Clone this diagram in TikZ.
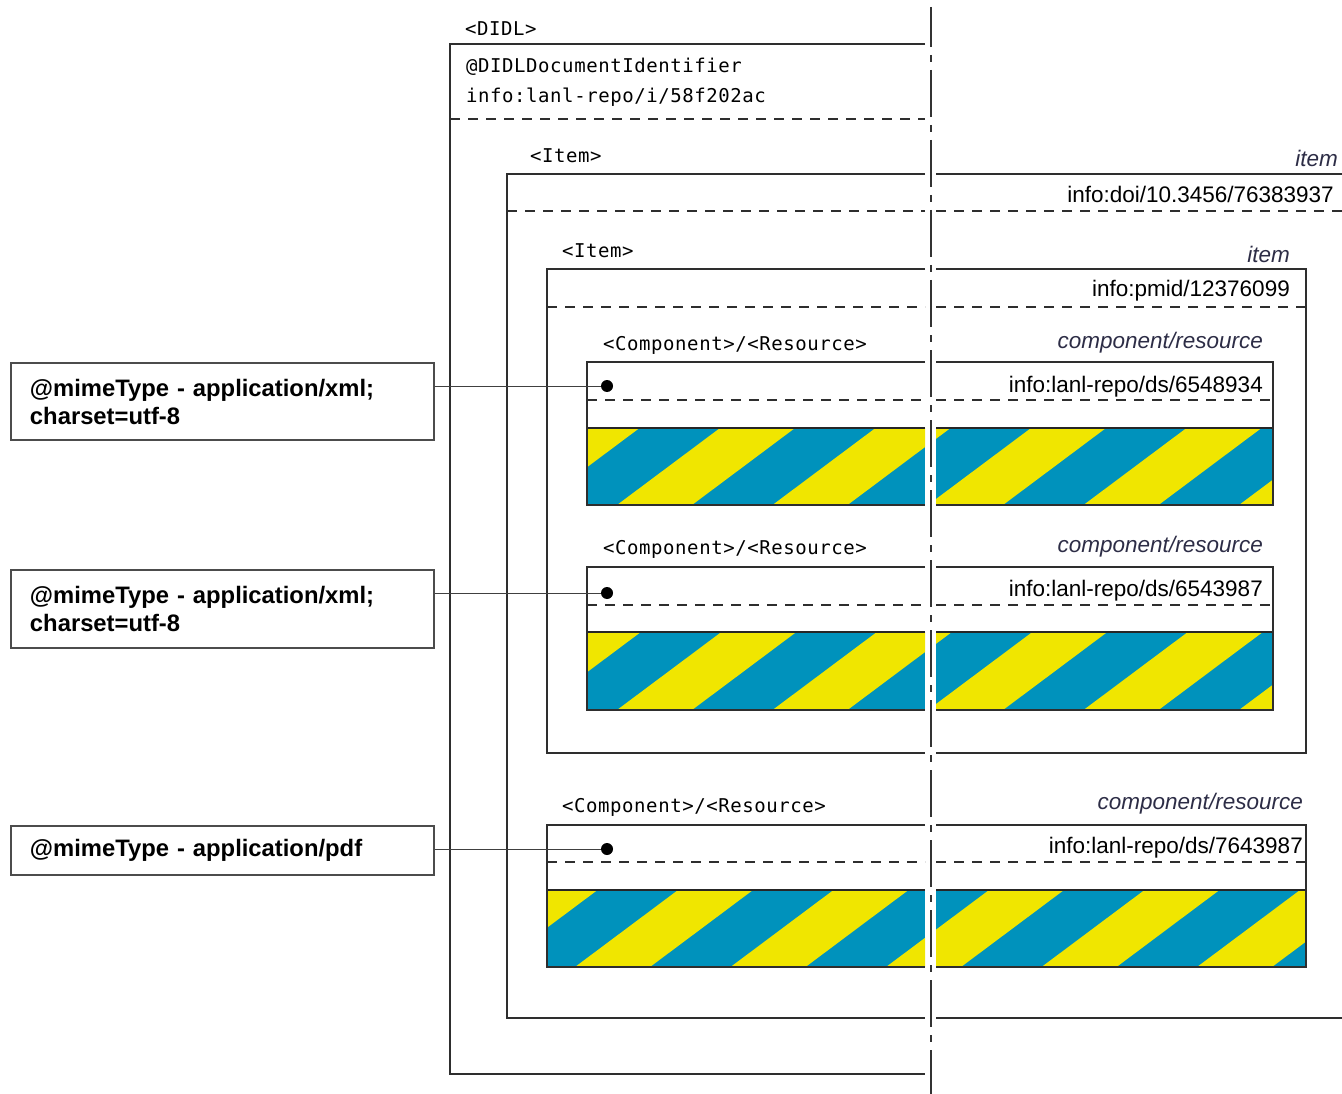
\documentclass[tikz,border=0pt]{standalone}
\usepackage{fontspec}
\setmainfont{Liberation Sans}
\newfontfamily\codefont[LetterSpace=3]{DejaVu Sans Mono}
\definecolor{hatchblue}{RGB}{0,146,188}
\definecolor{hatchyellow}{RGB}{240,230,0}
\definecolor{typecol}{RGB}{45,45,70}

% diagonal yellow/blue band: #1 left x, #2 right x, #3 top y, #4 bottom y,
% #5 x where a yellow band starts on the bottom edge
\newcommand\hatchband[5]{%
  \begin{scope}
    \clip (#1,#3) rectangle (#2,#4);
    \fill[hatchblue] (#1,#3) rectangle (#2,#4);
    \foreach \k in {-2,...,5}{
      \pgfmathsetmacro\xa{#5+\k*155.5}
      \fill[hatchyellow] (\xa,#4) -- ++(75,0) -- ++({1.338*(#4-#3)},{-(#4-#3)}) -- ++(-75,0) -- cycle;
    }
  \end{scope}
  \draw[bandedge] (#1,#3) -- (#2,#3) (#1,#4) -- (#2,#4);
}

\begin{document}
\begin{tikzpicture}[x=1pt,y=-1pt,
  frame/.style={line width=1.8pt, draw=black!82},
  sep/.style={line width=1.8pt, draw=black!82, dash pattern=on 10pt off 8pt},
  bandedge/.style={line width=1.4pt, draw=black!85},
  axisline/.style={line width=1.8pt, draw=black!80, dash pattern=on 47pt off 8pt on 7pt off 8pt, dash phase=7pt},
  tag/.style={inner sep=0pt, anchor=base west, font=\codefont\fontsize{19}{21}\selectfont},
  kind/.style={inner sep=0pt, anchor=base east, text=typecol, font=\fontsize{22.5}{26}\selectfont\itshape},
  ident/.style={inner sep=0pt, anchor=base east, font=\fontsize{22.5}{26}\selectfont},
  note/.style={draw=black!70, line width=1.2pt, minimum width=423pt, inner xsep=19pt,
    text width=385pt, align=left, font=\fontsize{23.8}{28}\selectfont\bfseries},
  dot/.style={circle, fill=black, minimum size=12pt, inner sep=0pt},
  lead/.style={draw=black!75, line width=1pt}]
\useasboundingbox (0,0) rectangle (1342,1094);

% ---- stripes of the three components ----
\hatchband{587}{925}{428}{505}{617}
\hatchband{936}{1273}{428}{505}{617}
\hatchband{587}{925}{632}{710}{617}
\hatchband{936}{1273}{632}{710}{617}
\hatchband{547}{925}{890}{967}{575}
\hatchband{936}{1306}{890}{967}{575}

% ---- DIDL ----
\draw[frame] (925,44) -- (450,44) -- (450,1074) -- (925,1074);
\draw[sep] (450,119) -- (925,119);
\node[tag] (didl) at (465,36) {<DIDL>};
\node[tag] (didlid) at (466,73) {@DIDLDocumentIdentifier};
\node[tag] (didlval) at (466,103) {info:lanl-repo/i/58f202ac};

% ---- outer Item ----
\draw[frame] (925,174) -- (507,174) -- (507,1018) -- (925,1018);
\draw[frame] (936,174) -- (1342,174) (936,1018) -- (1342,1018);
\draw[sep] (507,211) -- (925,211) (936,211) -- (1342,211);
\node[tag] (itemA) at (530,163) {<Item>};
\node[kind] (itemAk) at (1338,167) {item};
\node[ident] (itemAid) at (1334,203) {info:doi/10.3456/76383937};

% ---- inner Item ----
\draw[frame] (925,269) -- (547,269) -- (547,753) -- (925,753);
\draw[frame] (936,269) -- (1306,269) -- (1306,753) -- (936,753);
\draw[sep] (547,307) -- (925,307) (936,307) -- (1306,307);
\node[tag] (itemB) at (562,258) {<Item>};
\node[kind] (itemBk) at (1290,262) {item};
\node[ident] (itemBid) at (1290,297) {info:pmid/12376099};

% ---- component 1 ----
\draw[frame] (925,362) -- (587,362) -- (587,505) -- (925,505);
\draw[frame] (936,362) -- (1273,362) -- (1273,505) -- (936,505);
\draw[sep] (587,400) -- (925,400) (936,400) -- (1273,400);
\node[tag] (compA) at (603,350) {<Component>/<Resource>};
\node[kind] (compAk) at (1263,348) {component/resource};
\node[ident] (compAid) at (1263,392) {info:lanl-repo/ds/6548934};

% ---- component 2 ----
\draw[frame] (925,567) -- (587,567) -- (587,710) -- (925,710);
\draw[frame] (936,567) -- (1273,567) -- (1273,710) -- (936,710);
\draw[sep] (587,605) -- (925,605) (936,605) -- (1273,605);
\node[tag] (compB) at (603,554) {<Component>/<Resource>};
\node[kind] (compBk) at (1263,552) {component/resource};
\node[ident] (compBid) at (1263,596) {info:lanl-repo/ds/6543987};

% ---- component 3 ----
\draw[frame] (925,825) -- (547,825) -- (547,967) -- (925,967);
\draw[frame] (936,825) -- (1306,825) -- (1306,967) -- (936,967);
\draw[sep] (547,862) -- (925,862) (936,862) -- (1306,862);
\node[tag] (compC) at (562,812) {<Component>/<Resource>};
\node[kind] (compCk) at (1303,809) {component/resource};
\node[ident] (compCid) at (1303,853) {info:lanl-repo/ds/7643987};

% ---- separating axis ----
\draw[axisline] (931,7) -- (931,1094);

% ---- mime type notes ----
\node[note, minimum height=77pt] (mimeA) at (222.5,401.5) {@mimeType - application/xml;\\charset=utf-8};
\node[note, minimum height=78pt] (mimeB) at (222.5,609) {@mimeType - application/xml;\\charset=utf-8};
\node[note, minimum height=49pt] (mimeC) at (222.5,850.5) {@mimeType - application/pdf};

\node[dot] (dotA) at (607,386) {};
\node[dot] (dotB) at (607,593) {};
\node[dot] (dotC) at (607,849) {};
\draw[lead] (mimeA.east |- dotA) -- (dotA);
\draw[lead] (mimeB.east |- dotB) -- (dotB);
\draw[lead] (mimeC.east |- dotC) -- (dotC);
\end{tikzpicture}
\end{document}
